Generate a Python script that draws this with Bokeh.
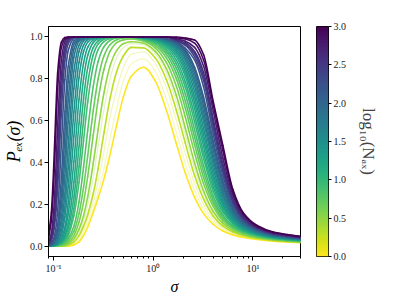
import numpy as np
from bokeh.plotting import figure
from bokeh.layouts import row
from bokeh.models import Range1d, FixedTicker, PrintfTickFormatter, CustomJSTickFormatter, LinearColorMapper
from bokeh.palettes import Viridis256
from bokeh.embed import file_html
from bokeh.resources import INLINE

# sigma sample points (log axis)
SIGMA = [0.089, 0.095, 0.1, 0.105, 0.11, 0.12, 0.13, 0.14, 0.16, 0.18, 0.2, 0.22, 0.25, 0.28,
         0.32, 0.37, 0.43, 0.5, 0.6, 0.8, 1.05, 1.35, 1.7, 2.1, 2.6, 3.2, 4.0, 5.0, 6.3, 8.0,
         11, 16, 22, 30]

# P_ex(sigma) for each log10(N_ax)
P_000 = [0, 0, 0, 0, 0, 0, 0, 0, 0.006, 0.02, 0.05, 0.09, 0.16, 0.23, 0.32, 0.44, 0.58, 0.711,
         0.811, 0.855, 0.789, 0.652, 0.492, 0.348, 0.233, 0.155, 0.103, 0.072, 0.053, 0.041,
         0.031, 0.023, 0.019, 0.016]
P_010 = [0, 0, 0, 0, 0, 0, 0, 0, 0.01, 0.03, 0.065, 0.11, 0.18, 0.26, 0.37, 0.52, 0.66, 0.788,
         0.870, 0.896, 0.834, 0.706, 0.546, 0.395, 0.266, 0.177, 0.116, 0.080, 0.058, 0.044,
         0.033, 0.025, 0.020, 0.017]
P_020 = [0, 0, 0, 0, 0, 0, 0, 0.003, 0.015, 0.04, 0.08, 0.13, 0.21, 0.31, 0.45, 0.62, 0.75,
         0.852, 0.917, 0.929, 0.873, 0.759, 0.602, 0.443, 0.300, 0.198, 0.128, 0.087, 0.062,
         0.047, 0.034, 0.026, 0.021, 0.018]
P_030 = [0, 0, 0, 0, 0, 0, 0, 0.005, 0.02, 0.05, 0.095, 0.15, 0.25, 0.37, 0.54, 0.71, 0.835,
         0.908, 0.950, 0.948, 0.899, 0.798, 0.651, 0.491, 0.337, 0.224, 0.143, 0.095, 0.067,
         0.050, 0.037, 0.027, 0.022, 0.019]
P_040 = [0, 0, 0, 0, 0, 0, 0.002, 0.008, 0.03, 0.065, 0.12, 0.195, 0.33, 0.475, 0.65, 0.80,
         0.90, 0.948, 0.968, 0.962, 0.919, 0.829, 0.691, 0.530, 0.369, 0.244, 0.154, 0.102,
         0.071, 0.053, 0.038, 0.029, 0.024, 0.020]
P_048 = [0, 0, 0, 0, 0, 0, 0.004, 0.01, 0.035, 0.08, 0.145, 0.235, 0.395, 0.557, 0.731, 0.863,
         0.936, 0.968, 0.977, 0.970, 0.931, 0.850, 0.722, 0.563, 0.397, 0.263, 0.165, 0.108,
         0.074, 0.055, 0.039, 0.030, 0.024, 0.020]
P_060 = [0, 0, 0, 0, 0, 0.003, 0.008, 0.017, 0.05, 0.115, 0.21, 0.332, 0.529, 0.699, 0.844,
         0.932, 0.973, 0.986, 0.990, 0.979, 0.947, 0.880, 0.767, 0.616, 0.445, 0.298, 0.188,
         0.120, 0.082, 0.059, 0.043, 0.032, 0.026, 0.022]
P_070 = [0, 0, 0, 0, 0.002, 0.005, 0.012, 0.025, 0.07, 0.155, 0.281, 0.431, 0.646, 0.799,
         0.909, 0.964, 0.987, 0.995, 0.997, 0.984, 0.958, 0.902, 0.802, 0.659, 0.485, 0.327,
         0.204, 0.129, 0.087, 0.063, 0.045, 0.033, 0.027, 0.022]
P_080 = [0, 0, 0, 0, 0.003, 0.007, 0.016, 0.035, 0.095, 0.21, 0.378, 0.553, 0.763, 0.883,
         0.953, 0.984, 0.995, 0.998, 0.998, 0.987, 0.966, 0.918, 0.828, 0.693, 0.520, 0.355,
         0.220, 0.139, 0.092, 0.066, 0.048, 0.035, 0.028, 0.024]
P_090 = [0, 0, 0, 0.002, 0.004, 0.01, 0.024, 0.05, 0.144, 0.304, 0.505, 0.687, 0.859, 0.939,
         0.978, 0.993, 0.998, 1.0, 0.999, 0.990, 0.972, 0.931, 0.852, 0.727, 0.555, 0.384,
         0.239, 0.149, 0.097, 0.069, 0.049, 0.036, 0.030, 0.025]
P_100 = [0, 0, 0.001, 0.003, 0.006, 0.014, 0.03, 0.06, 0.18, 0.379, 0.603, 0.777, 0.914, 0.966,
         0.989, 0.997, 1.0, 1.0, 1.0, 0.992, 0.977, 0.942, 0.873, 0.759, 0.593, 0.418, 0.262,
         0.162, 0.105, 0.073, 0.052, 0.038, 0.031, 0.026]
P_110 = [0, 0.001, 0.0015, 0.0035, 0.007, 0.017, 0.04, 0.082, 0.233, 0.475, 0.705, 0.852,
         0.949, 0.981, 0.995, 0.999, 1.0, 1.0, 1.0, 0.993, 0.982, 0.952, 0.890, 0.784, 0.624,
         0.444, 0.281, 0.173, 0.111, 0.076, 0.054, 0.039, 0.032, 0.027]
P_120 = [0, 0.001, 0.002, 0.004, 0.008, 0.02, 0.05, 0.106, 0.307, 0.586, 0.800, 0.911, 0.973,
         0.991, 0.998, 1.0, 1.0, 1.0, 1.0, 0.995, 0.985, 0.960, 0.907, 0.811, 0.657, 0.476,
         0.302, 0.185, 0.117, 0.080, 0.056, 0.041, 0.033, 0.028]
P_130 = [0, 0.001, 0.0025, 0.005, 0.01, 0.027, 0.07, 0.15, 0.405, 0.701, 0.875, 0.950, 0.986,
         0.996, 0.999, 1.0, 1.0, 1.0, 1.0, 0.996, 0.988, 0.966, 0.919, 0.832, 0.685, 0.505,
         0.323, 0.197, 0.124, 0.084, 0.058, 0.042, 0.035, 0.029]
P_140 = [0, 0.001, 0.003, 0.006, 0.012, 0.035, 0.09, 0.201, 0.526, 0.805, 0.930, 0.975, 0.994,
         0.999, 1.0, 1.0, 1.0, 1.0, 1.0, 0.997, 0.990, 0.971, 0.930, 0.850, 0.712, 0.533,
         0.343, 0.208, 0.129, 0.087, 0.060, 0.043, 0.036, 0.030]
P_150 = [0, 0.0015, 0.004, 0.0085, 0.017, 0.052, 0.14, 0.28, 0.642, 0.878, 0.961, 0.987,
         0.997, 1.0, 1.0, 1.0, 1.0, 1.0, 1.0, 0.998, 0.991, 0.976, 0.939, 0.868, 0.739, 0.562,
         0.367, 0.223, 0.137, 0.092, 0.062, 0.045, 0.037, 0.031]
P_160 = [0, 0.002, 0.005, 0.011, 0.022, 0.07, 0.188, 0.368, 0.754, 0.930, 0.980, 0.994, 0.999,
         1.0, 1.0, 1.0, 1.0, 1.0, 1.0, 0.998, 0.992, 0.979, 0.948, 0.884, 0.764, 0.593, 0.392,
         0.238, 0.145, 0.096, 0.065, 0.046, 0.038, 0.031]
P_170 = [0.0005, 0.003, 0.0075, 0.015, 0.031, 0.10, 0.251, 0.470, 0.837, 0.960, 0.990, 0.997,
         1.0, 1.0, 1.0, 1.0, 1.0, 1.0, 1.0, 1.0, 0.995, 0.982, 0.955, 0.898, 0.786, 0.617,
         0.413, 0.250, 0.151, 0.099, 0.067, 0.048, 0.039, 0.033]
P_180 = [0.001, 0.004, 0.01, 0.02, 0.04, 0.135, 0.336, 0.589, 0.903, 0.980, 0.995, 1.0, 1.0,
         1.0, 1.0, 1.0, 1.0, 1.0, 1.0, 1.0, 0.995, 0.985, 0.961, 0.909, 0.805, 0.642, 0.434,
         0.264, 0.159, 0.103, 0.070, 0.049, 0.040, 0.034]
P_190 = [0.0015, 0.0055, 0.0135, 0.028, 0.057, 0.19, 0.428, 0.690, 0.941, 0.989, 0.998, 1.0,
         1.0, 1.0, 1.0, 1.0, 1.0, 1.0, 1.0, 1.0, 0.996, 0.987, 0.966, 0.920, 0.825, 0.668,
         0.459, 0.282, 0.167, 0.108, 0.072, 0.051, 0.042, 0.035]
P_200 = [0.002, 0.007, 0.017, 0.037, 0.075, 0.250, 0.535, 0.784, 0.966, 0.994, 1.0, 1.0, 1.0,
         1.0, 1.0, 1.0, 1.0, 1.0, 1.0, 1.0, 1.0, 0.990, 0.970, 0.929, 0.842, 0.692, 0.483,
         0.298, 0.176, 0.112, 0.074, 0.052, 0.043, 0.035]
P_210 = [0.003, 0.009, 0.023, 0.05, 0.10, 0.333, 0.643, 0.856, 0.981, 0.997, 1.0, 1.0, 1.0,
         1.0, 1.0, 1.0, 1.0, 1.0, 1.0, 1.0, 1.0, 0.99, 0.974, 0.937, 0.855, 0.712, 0.503,
         0.311, 0.184, 0.116, 0.076, 0.054, 0.044, 0.037]
P_225 = [0.004, 0.014, 0.035, 0.08, 0.17, 0.492, 0.796, 0.933, 0.993, 1.0, 1.0, 1.0, 1.0, 1.0,
         1.0, 1.0, 1.0, 1.0, 1.0, 1.0, 1.0, 0.993, 0.978, 0.946, 0.89, 0.76, 0.536, 0.335,
         0.197, 0.123, 0.080, 0.056, 0.046, 0.038]
P_240 = [0.006, 0.026, 0.064, 0.145, 0.28, 0.644, 0.885, 0.967, 0.997, 1.0, 1.0, 1.0, 1.0,
         1.0, 1.0, 1.0, 1.0, 1.0, 1.0, 1.0, 1.0, 1.0, 0.982, 0.96, 0.905, 0.79, 0.566, 0.357,
         0.209, 0.129, 0.083, 0.058, 0.048, 0.039]
P_250 = [0.008, 0.034, 0.084, 0.187, 0.357, 0.741, 0.928, 0.981, 1.0, 1.0, 1.0, 1.0, 1.0, 1.0,
         1.0, 1.0, 1.0, 1.0, 1.0, 1.0, 1.0, 1.0, 0.985, 0.965, 0.92, 0.81, 0.59, 0.374, 0.218,
         0.133, 0.085, 0.059, 0.049, 0.040]
P_260 = [0.012, 0.041, 0.105, 0.237, 0.437, 0.812, 0.954, 0.989, 1.0, 1.0, 1.0, 1.0, 1.0, 1.0,
         1.0, 1.0, 1.0, 1.0, 1.0, 1.0, 1.0, 1.0, 0.986, 0.972, 0.93, 0.83, 0.607, 0.391, 0.228,
         0.138, 0.088, 0.061, 0.050, 0.041]
P_275 = [0.017, 0.061, 0.159, 0.341, 0.576, 0.891, 0.977, 0.996, 1.0, 1.0, 1.0, 1.0, 1.0, 1.0,
         1.0, 1.0, 1.0, 1.0, 1.0, 1.0, 1.0, 1.0, 0.99, 0.98, 0.95, 0.86, 0.645, 0.42, 0.243,
         0.146, 0.091, 0.063, 0.052, 0.043]
P_290 = [0.035, 0.12, 0.28, 0.52, 0.75, 0.95, 0.99, 0.998, 1.0, 1.0, 1.0, 1.0, 1.0, 1.0, 1.0,
         1.0, 1.0, 1.0, 1.0, 1.0, 1.0, 1.0, 0.995, 0.99, 0.97, 0.89, 0.675, 0.455, 0.258, 0.153,
         0.095, 0.065, 0.054, 0.045]
P_300 = [0.05, 0.16, 0.36, 0.62, 0.83, 0.975, 0.997, 1.0, 1.0, 1.0, 1.0, 1.0, 1.0, 1.0, 1.0,
         1.0, 1.0, 1.0, 1.0, 1.0, 1.0, 1.0, 1.0, 0.995, 0.985, 0.915, 0.69, 0.48, 0.27, 0.159,
         0.098, 0.067, 0.055, 0.046]

# (log10 N_ax, values, faint?)
CURVES = [
    (0.0, P_000, False), (0.1, P_010, True), (0.2, P_020, True), (0.3, P_030, False),
    (0.4, P_040, True), (0.48, P_048, False), (0.6, P_060, False), (0.7, P_070, False),
    (0.8, P_080, False), (0.9, P_090, False), (1.0, P_100, False), (1.1, P_110, False),
    (1.2, P_120, False), (1.3, P_130, False), (1.4, P_140, False), (1.5, P_150, False),
    (1.6, P_160, False), (1.7, P_170, False), (1.8, P_180, False), (1.9, P_190, False),
    (2.0, P_200, False), (2.1, P_210, False), (2.25, P_225, False), (2.4, P_240, False),
    (2.5, P_250, False), (2.6, P_260, False), (2.75, P_275, False), (2.9, P_290, False),
    (3.0, P_300, False),
]

Y_TICKS = [0.0, 0.2, 0.4, 0.6, 0.8, 1.0]
X_TICKS = [0.1, 1, 10]
X_MINOR = [0.09, 0.2, 0.3, 0.4, 0.5, 0.6, 0.7, 0.8, 0.9, 2, 3, 4, 5, 6, 7, 8, 9, 20, 30]
CB_TICKS = [0.0, 0.5, 1.0, 1.5, 2.0, 2.5, 3.0]
CB_LOW, CB_HIGH = 0.0, 3.0

PAL = list(reversed(Viridis256))
SERIF = "Liberation Serif"


def smooth_segments(xs, ys):
    """Monotone cubic (PCHIP) Bezier segments through the sample points, in log-x space."""
    u = np.log10(np.asarray(xs, float))
    y = np.asarray(ys, float)
    h = np.diff(u)
    d = np.diff(y) / h
    n = len(u)
    m = np.zeros(n)
    m[0], m[-1] = d[0], d[-1]
    for i in range(1, n - 1):
        if d[i - 1] * d[i] <= 0:
            m[i] = 0.0
        else:
            w1 = 2 * h[i] + h[i - 1]
            w2 = h[i] + 2 * h[i - 1]
            m[i] = (w1 + w2) / (w1 / d[i - 1] + w2 / d[i])
    return dict(x0=10 ** u[:-1], y0=y[:-1], x1=10 ** u[1:], y1=y[1:],
                cx0=10 ** (u[:-1] + h / 3), cy0=y[:-1] + m[:-1] * h / 3,
                cx1=10 ** (u[1:] - h / 3), cy1=y[1:] - m[1:] * h / 3)


p = figure(frame_width=252, frame_height=230, x_axis_type="log",
           x_range=Range1d(0.089, 30), y_range=Range1d(-0.05, 1.05),
           output_backend="svg", toolbar_location=None,
           min_border_left=43, min_border_right=8, min_border_top=26, min_border_bottom=30)
p.grid.visible = False
p.outline_line_color = "black"
p.outline_line_width = 1
p.background_fill_color = "white"

for L, ys, faint in CURVES:
    col = PAL[int(round((L - CB_LOW) / (CB_HIGH - CB_LOW) * 255))]
    seg = smooth_segments(SIGMA, ys)
    if faint:
        p.bezier(**seg, line_color=col, line_width=1.2, line_alpha=0.3)
    else:
        p.bezier(**seg, line_color=col, line_width=1.6, line_cap="round")

xa = p.xaxis[0]
ya = p.yaxis[0]
xa.ticker = FixedTicker(ticks=X_TICKS, minor_ticks=X_MINOR)
xa.formatter = CustomJSTickFormatter(code="""
const e = Math.round(Math.log10(tick));
const m = {"-1": "\u207b\u00b9", "0": "\u2070", "1": "\u00b9", "2": "\u00b2"};
return "10" + m[String(e)];
""")
ya.ticker = FixedTicker(ticks=Y_TICKS)
ya.formatter = PrintfTickFormatter(format="%.1f")

for ax in (xa, ya):
    ax.axis_line_color = "black"
    ax.major_tick_line_color = "black"
    ax.major_tick_out = 4
    ax.major_tick_in = 0
    ax.minor_tick_out = 2
    ax.minor_tick_in = 0
    ax.major_label_standoff = 2
    ax.major_label_text_font = SERIF
    ax.major_label_text_font_size = "10px"
    ax.major_label_text_color = "#222222"
    ax.axis_label_text_font = SERIF
    ax.axis_label_text_font_style = "italic"
    ax.axis_label_text_color = "black"
xa.minor_tick_line_color = "black"
ya.minor_tick_line_color = None

xa.axis_label = "σ"
xa.axis_label_text_font_size = "16px"
xa.axis_label_standoff = 1
ya.axis_label = "Pₑₓ(σ)"
ya.axis_label_text_font_size = "18px"
ya.axis_label_standoff = 3

# colour bar as its own narrow figure
cb = figure(frame_width=12, frame_height=230, x_range=Range1d(0, 1),
            y_range=Range1d(CB_LOW, CB_HIGH), output_backend="svg", toolbar_location=None,
            x_axis_location=None, y_axis_location="right",
            min_border_left=8, min_border_right=60, min_border_top=26, min_border_bottom=30)
cb.grid.visible = False
cb.outline_line_color = "black"
levels = np.linspace(CB_LOW, CB_HIGH, 256).reshape(-1, 1)
cb.image(image=[levels], x=0, y=CB_LOW, dw=1, dh=CB_HIGH - CB_LOW,
         color_mapper=LinearColorMapper(palette=PAL, low=CB_LOW, high=CB_HIGH))
ca = cb.yaxis[0]
ca.ticker = FixedTicker(ticks=CB_TICKS)
ca.formatter = PrintfTickFormatter(format="%.1f")
ca.axis_line_color = None
ca.major_tick_line_color = "black"
ca.major_tick_out = 3
ca.major_tick_in = 0
ca.minor_tick_line_color = None
ca.major_label_standoff = 2
ca.major_label_text_font = SERIF
ca.major_label_text_font_size = "10px"
ca.major_label_text_color = "#222222"
ca.axis_label = "log₁₀(Nₐₓ)"
ca.axis_label_text_font = SERIF
ca.axis_label_text_font_style = "normal"
ca.axis_label_text_font_size = "17px"
ca.axis_label_standoff = 10

layout = row(p, cb)
with open("out.html", "w", encoding="utf-8") as f:
    f.write(file_html(layout, INLINE))
